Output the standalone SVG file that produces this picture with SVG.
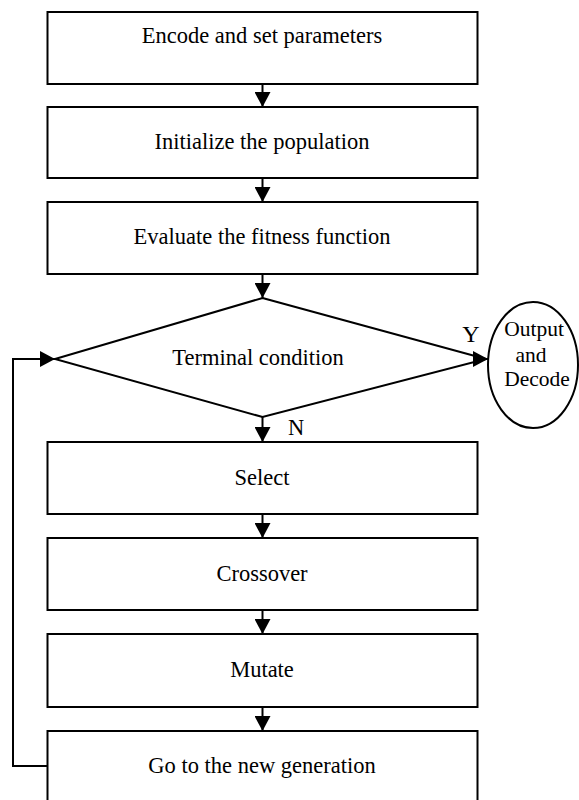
<svg xmlns="http://www.w3.org/2000/svg" width="579" height="800" viewBox="0 0 579 800">
  <style>
    .box { fill: #fff; stroke: #000; stroke-width: 2; }
    .conn { fill: none; stroke: #000; stroke-width: 2; }
    .t { font-family: "Liberation Serif", "Times New Roman", serif; font-size: 22.5px; fill: #000; text-anchor: middle; }
    .s { font-family: "Liberation Serif", "Times New Roman", serif; font-size: 21.5px; fill: #000; text-anchor: middle; }
  </style>
  <defs>
    <marker id="ah" viewBox="0 0 15 16" refX="15" refY="8" markerWidth="15" markerHeight="16" markerUnits="userSpaceOnUse" orient="auto">
      <path d="M0,0 L15,8 L0,16 Z" fill="#000"/>
    </marker>
  </defs>

  <g id="n1">
    <rect class="box" x="47.5" y="12" width="430" height="72"/>
    <text class="t" x="262" y="43">Encode and set parameters</text>
  </g>
  <g id="n2">
    <rect class="box" x="47.5" y="107" width="430" height="71"/>
    <text class="t" x="262" y="149">Initialize the population</text>
  </g>
  <g id="n3">
    <rect class="box" x="47.5" y="202" width="430" height="72"/>
    <text class="t" x="262" y="244">Evaluate the fitness function</text>
  </g>
  <g id="n4">
    <polygon class="box" points="262.5,298 486,359 262.5,417 55,359"/>
    <text class="t" x="258" y="365">Terminal condition</text>
  </g>
  <g id="n5">
    <ellipse class="box" cx="533" cy="365" rx="45" ry="63"/>
    <text class="s" x="534" y="336">Output</text>
    <text class="s" x="531" y="362">and</text>
    <text class="s" x="537" y="386">Decode</text>
  </g>
  <g id="n6">
    <rect class="box" x="47.5" y="442" width="430" height="72"/>
    <text class="t" x="262" y="485">Select</text>
  </g>
  <g id="n7">
    <rect class="box" x="47.5" y="538" width="430" height="72"/>
    <text class="t" x="262" y="581">Crossover</text>
  </g>
  <g id="n8">
    <rect class="box" x="47.5" y="634" width="430" height="73"/>
    <text class="t" x="262" y="677">Mutate</text>
  </g>
  <g id="n9">
    <rect class="box" x="47.5" y="731" width="430" height="72"/>
    <text class="t" x="262" y="773">Go to the new generation</text>
  </g>

  <g id="connectors">
    <line class="conn" x1="262.5" y1="84" x2="262.5" y2="107" marker-end="url(#ah)"/>
    <line class="conn" x1="262.5" y1="178" x2="262.5" y2="202" marker-end="url(#ah)"/>
    <line class="conn" x1="262.5" y1="274" x2="262.5" y2="298" marker-end="url(#ah)"/>
    <line class="conn" x1="262.5" y1="417" x2="262.5" y2="442" marker-end="url(#ah)"/>
    <line class="conn" x1="262.5" y1="514" x2="262.5" y2="538" marker-end="url(#ah)"/>
    <line class="conn" x1="262.5" y1="610" x2="262.5" y2="634" marker-end="url(#ah)"/>
    <line class="conn" x1="262.5" y1="707" x2="262.5" y2="731" marker-end="url(#ah)"/>
    <path class="conn" d="M47.5,766 H13 V359 H55" marker-end="url(#ah)"/>
    <line class="conn" x1="478" y1="359" x2="488" y2="359" marker-end="url(#ah)"/>
    <text class="t" x="471" y="342" style="font-size:24px">Y</text>
    <text class="t" x="296" y="435">N</text>
  </g>
</svg>
